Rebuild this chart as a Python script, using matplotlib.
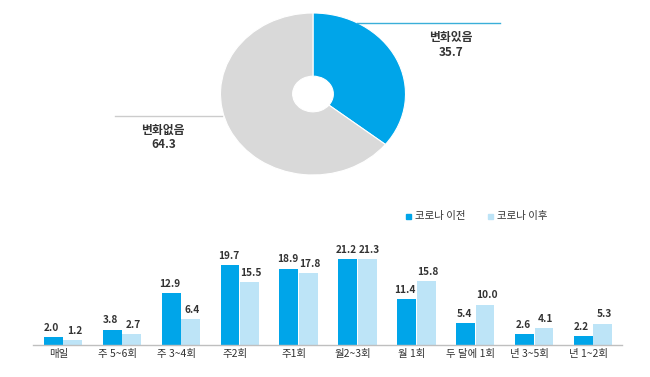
import matplotlib
matplotlib.use("Agg")
import matplotlib.pyplot as plt
from matplotlib.patches import Rectangle
from matplotlib.lines import Line2D
import numpy as np

plt.rcParams['font.family'] = ['Noto Sans CJK KR', 'DejaVu Sans']

# ---- data ----
pie_labels = ["변화있음", "변화없음"]
pie_values = [35.7, 64.3]

categories = ["매일", "주 5~6회", "주 3~4회", "주2회", "주1회",
              "월2~3회", "월 1회", "두 달에 1회", "년 3~5회", "년 1~2회"]
series_names = ["코로나 이전", "코로나 이후"]
before = [2.0, 3.8, 12.9, 19.7, 18.9, 21.2, 11.4, 5.4, 2.6, 2.2]
after = [1.2, 2.7, 6.4, 15.5, 17.8, 21.3, 15.8, 10.0, 4.1, 5.3]

# ---- styles ----
BLUE = "#00A5E9"
LIGHT = "#BDE4F7"
GRAY = "#D9D9D9"
TXT = "#333333"

W, H = 650, 377
fig = plt.figure(figsize=(W / 100, H / 100), dpi=100)
fig.patch.set_facecolor("white")


def fx(px):
    return px / W


def fy(py):
    return 1 - py / H


# ---- donut ----
cx, cy, rx, ry = 313, 94, 92.5, 81
axp = fig.add_axes([fx(cx - rx), fy(cy + ry), 2 * rx / W, 2 * ry / H])
axp.pie(pie_values, colors=[BLUE, GRAY], startangle=90, counterclock=False,
        radius=1.0, wedgeprops=dict(width=0.78, edgecolor="white", linewidth=0.8))
axp.set_aspect("auto")
axp.set_xlim(-1, 1)
axp.set_ylim(-1, 1)
axp.axis("off")

# leader lines
fig.add_artist(Line2D([fx(357), fx(500)], [fy(23), fy(23)], color="#3AAFD9", lw=1.0,
                      transform=fig.transFigure))
fig.add_artist(Line2D([fx(115), fx(222)], [fy(116), fy(116)], color="#CCCCCC", lw=1.0,
                      transform=fig.transFigure))

fig.text(fx(451), fy(37), pie_labels[0], ha="center", va="center", fontsize=8.5, color=TXT,
         fontweight="bold")
fig.text(fx(451), fy(52), f"{pie_values[0]:.1f}", ha="center", va="center", fontsize=8.5,
         color=TXT, fontweight="bold")
fig.text(fx(163), fy(130), pie_labels[1], ha="center", va="center", fontsize=8.5, color=TXT,
         fontweight="bold")
fig.text(fx(164), fy(145), f"{pie_values[1]:.1f}", ha="center", va="center", fontsize=8.5,
         color=TXT, fontweight="bold")

# ---- bar chart ----
base_px = 345
top_px = 235
ppu = 4.04
ymax = (base_px - top_px) / ppu
left_px, right_px = 33, 622
axb = fig.add_axes([fx(left_px), fy(base_px), (right_px - left_px) / W, (base_px - top_px) / H])
x = np.arange(len(categories))
bw = 0.32
off = 0.165
axb.bar(x - off, before, width=bw, color=BLUE)
axb.bar(x + off, after, width=bw, color=LIGHT)
axb.set_xlim(-0.51, 9.49)
axb.set_ylim(0, ymax)
for s in ["top", "right", "left"]:
    axb.spines[s].set_visible(False)
axb.spines["bottom"].set_color("#BFBFBF")
axb.spines["bottom"].set_linewidth(1.0)
axb.set_yticks([])
axb.set_xticks(x - 0.08)
axb.set_xticklabels(categories, fontsize=7.5, color=TXT)
axb.tick_params(axis="x", length=0, pad=3)

for xi, v in zip(x - off, before):
    axb.annotate(f"{v:.1f}", (xi, v), xytext=(-1.2, 3), textcoords="offset points",
                 ha="center", va="bottom", fontsize=7.3, color=TXT, fontweight="bold")
for xi, v in zip(x + off, after):
    axb.annotate(f"{v:.1f}", (xi, v), xytext=(1.2, 3), textcoords="offset points",
                 ha="center", va="bottom", fontsize=7.3, color=TXT, fontweight="bold")

# legend
sq = 5
for px, col, name in [(406, BLUE, series_names[0]), (488, LIGHT, series_names[1])]:
    fig.add_artist(Rectangle((fx(px), fy(216 + sq / 2)), sq / W, sq / H, color=col,
                             transform=fig.transFigure))
    fig.text(fx(px + 9), fy(216), name, ha="left", va="center", fontsize=7.5, color=TXT)

fig.savefig("out.png", dpi=100, facecolor="white")
